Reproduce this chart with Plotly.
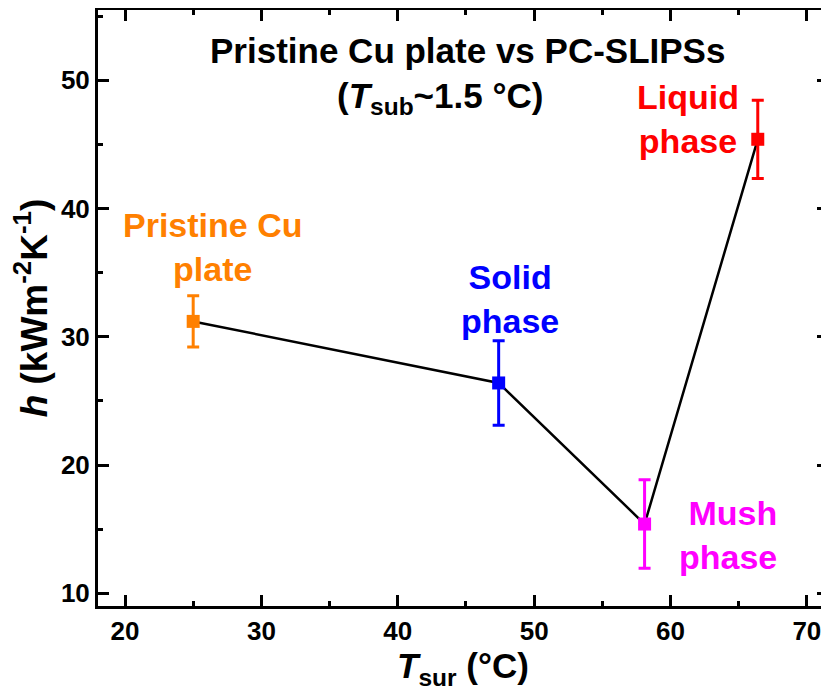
import plotly.graph_objects as go

# Data
labels = ["Pristine Cu plate", "Solid phase", "Mush phase", "Liquid phase"]
t_sur = [25.0, 47.4, 58.1, 66.4]
h_val = [31.2, 26.4, 15.4, 45.4]
h_err = [2.0, 3.3, 3.45, 3.05]
colors = ["#FF8000", "#0000FF", "#FF00FF", "#FF0000"]

FONT = "Arial, Liberation Sans, Helvetica, sans-serif"

fig = go.Figure()

# connecting line
fig.add_trace(go.Scatter(x=t_sur, y=h_val, mode="lines",
                         line=dict(color="black", width=2.5),
                         showlegend=False, hoverinfo="skip"))

for xv, yv, ev, c, name in zip(t_sur, h_val, h_err, colors, labels):
    fig.add_trace(go.Scatter(
        x=[xv], y=[yv], mode="markers", name=name,
        marker=dict(symbol="square", size=13, color=c),
        error_y=dict(type="data", array=[ev], visible=True,
                     color=c, thickness=3, width=6),
        showlegend=False))

ann_font = dict(family=FONT, size=34, weight="bold")
title_font = dict(family=FONT, size=35, weight="bold")
annotations = [
    dict(x=45.15, y=52.36, text="Pristine Cu plate vs PC-SLIPSs",
         font=dict(title_font, color="black"), xanchor="center", yanchor="middle"),
    dict(x=43.1, y=48.62, text="(<i>T</i><sub>sub</sub>~1.5 °C)",
         font=dict(title_font, color="black"), xanchor="center", yanchor="middle"),
    dict(x=26.38, y=36.97, text="Pristine Cu<br>plate",
         font=dict(ann_font, color=colors[0]), xanchor="center", yanchor="middle", align="center"),
    dict(x=48.23, y=32.95, text="Solid<br>phase",
         font=dict(ann_font, color=colors[1]), xanchor="center", yanchor="middle", align="center"),
    dict(x=61.3, y=46.98, text="Liquid<br>phase",
         font=dict(ann_font, color=colors[3]), xanchor="center", yanchor="middle", align="center"),
    dict(x=67.95, y=14.52, text="Mush<br>phase",
         font=dict(ann_font, color=colors[2]), xanchor="right", yanchor="middle", align="right"),
]
for a in annotations:
    a.update(xref="x", yref="y", showarrow=False)

axis_common = dict(
    showline=True, linewidth=3, linecolor="black", mirror="ticks",
    ticks="inside", ticklen=11, tickwidth=2.5, tickcolor="black",
    showgrid=False, zeroline=False, automargin=False,
    tickfont=dict(family=FONT, size=26, color="black", weight="bold"),
    minor=dict(ticks="inside", ticklen=5, tickwidth=2.5, tickcolor="black", showgrid=False),
)

# the page body has an 8px margin, so the figure is sized to fit the window
fig.update_layout(
    width=821, height=685,
    margin=dict(l=90, r=1, t=2, b=87),
    paper_bgcolor="white", plot_bgcolor="white",
    annotations=annotations,
    xaxis=dict(axis_common, range=[18.02, 71.55], dtick=10, tick0=0,
               minor=dict(axis_common["minor"], dtick=5),
               title=dict(text="<i>T</i><sub>sur</sub> (°C)",
                          font=dict(family=FONT, size=35, color="black", weight="bold"),
                          standoff=2)),
    yaxis=dict(axis_common, range=[9.01, 55.48], dtick=10, tick0=0,
               minor=dict(axis_common["minor"], dtick=5),
               title=dict(text="<i>h</i> (kWm<sup>-2</sup>K<sup>-1</sup>)",
                          font=dict(family=FONT, size=37, color="black", weight="bold"),
                          standoff=4)),
)

fig.write_html("out.html", post_script="document.body.style.overflow='hidden';")
